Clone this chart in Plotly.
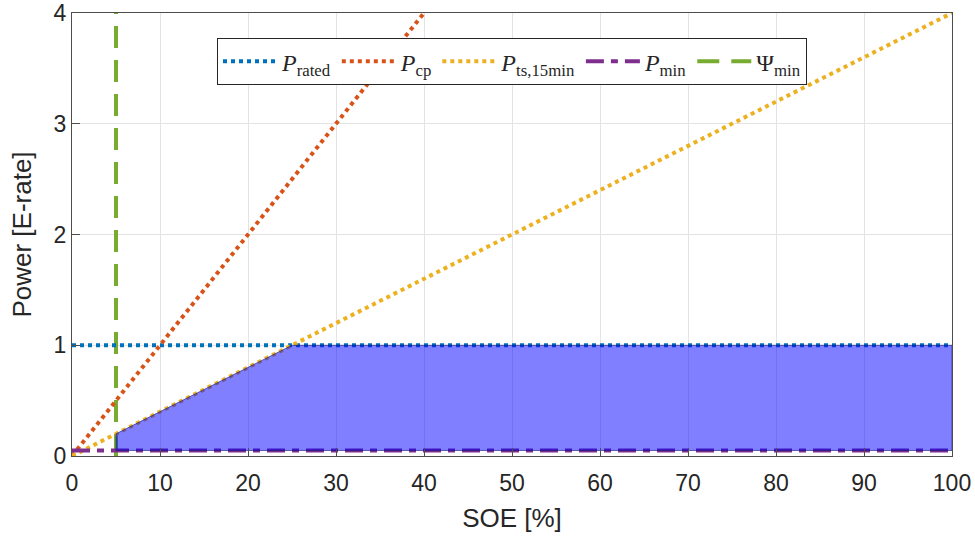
import plotly.graph_objects as go

# State of energy axis and the limit curves (power in E-rate)
soe = [0, 100]
p_rated = [1, 1]
soe_cp = [0, 40]
p_cp = [0, 4]
p_ts = [0, 4]
p_min_val = 0.05
psi_min = 5

# Feasible operating region: bounded by Psi_min, P_min, P_ts,15min and P_rated
region_soe = [5, 5, 25, 100, 100, 5]
region_p = [0.05, 0.2, 1, 1, 0.05, 0.05]

blue = "#0072BD"
red = "#D95319"
yellow = "#EDB120"
purple = "#7E2F8E"
green = "#77AC30"

fig = go.Figure()

fig.add_trace(go.Scatter(
    x=[psi_min, psi_min], y=[0, 4], mode="lines",
    line=dict(color=green, width=4, dash="22px,12px"),
    name="Ψ<sub>min</sub>", legendrank=5))

fig.add_trace(go.Scatter(
    x=soe, y=p_rated, mode="lines",
    line=dict(color=blue, width=4, dash="dot"),
    name="<i>P</i><sub>rated</sub>", legendrank=1))

fig.add_trace(go.Scatter(
    x=soe_cp, y=p_cp, mode="lines",
    line=dict(color=red, width=4, dash="dot"),
    name="<i>P</i><sub>cp</sub>", legendrank=2))

fig.add_trace(go.Scatter(
    x=soe, y=p_ts, mode="lines",
    line=dict(color=yellow, width=4, dash="dot"),
    name="<i>P</i><sub>ts,15min</sub>", legendrank=3))

fig.add_trace(go.Scatter(
    x=soe, y=[p_min_val, p_min_val], mode="lines",
    line=dict(color=purple, width=4, dash="18px,7px,7px,7px"),
    name="<i>P</i><sub>min</sub>", legendrank=4))

fig.add_trace(go.Scatter(
    x=region_soe, y=region_p, mode="lines", fill="toself",
    fillcolor="rgba(0,0,255,0.5)",
    line=dict(color="rgba(20,20,120,0.6)", width=1),
    showlegend=False, hoverinfo="skip"))

axis_common = dict(
    showgrid=True, gridcolor="#E3E3E3", gridwidth=1,
    showline=True, linecolor="#4D4D4D", linewidth=1.2, mirror=True,
    ticks="inside", ticklen=8, tickcolor="#4D4D4D",
    tickfont=dict(family="Liberation Sans, Arial", size=23, color="#262626"),
    zeroline=False, automargin=False,
)

title_font = dict(family="Liberation Sans, Arial", size=26, color="#262626")

fig.update_layout(
    width=975, height=538,
    margin=dict(l=72, r=23, t=13, b=82),
    plot_bgcolor="white", paper_bgcolor="white",
    xaxis=dict(range=[0, 100], dtick=10, ticklabelstandoff=6,
               title=dict(text="SOE [%]", font=title_font, standoff=14),
               **axis_common),
    yaxis=dict(range=[0, 4], dtick=1, ticklabelstandoff=0,
               title=dict(text="Power [E-rate]", font=title_font, standoff=14),
               **axis_common),
    legend=dict(
        orientation="h", x=0.5, xanchor="center", y=0.943, yanchor="top",
        bgcolor="white", bordercolor="#262626", borderwidth=1,
        font=dict(family="Liberation Serif, DejaVu Serif, serif", size=24, color="#262626"),
        itemwidth=54, tracegroupgap=0,
    ),
    showlegend=True,
)

fig.write_html("out.html")
